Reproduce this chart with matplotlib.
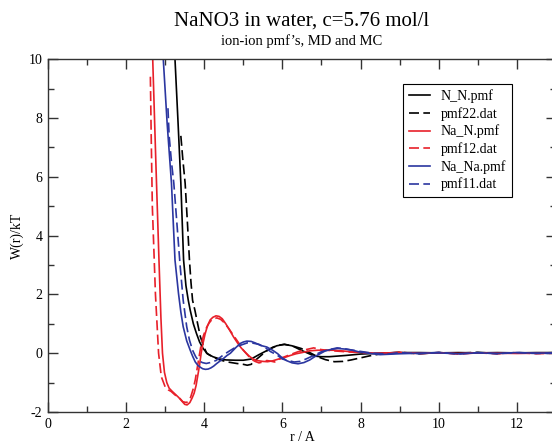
import matplotlib.pyplot as plt
from matplotlib.ticker import MultipleLocator

plt.rcParams['font.family'] = ['Liberation Serif', 'DejaVu Serif']
plt.rcParams['axes.unicode_minus'] = False

# N_N.pmf (MD) and pmf22.dat (MC)
nn_x = [3.20, 3.25, 3.33, 3.40, 3.47, 3.53, 3.59, 3.64, 3.72, 3.80, 3.88, 3.97, 4.08, 4.22, 4.40, 4.56,
        4.80, 5.00, 5.20, 5.40, 5.62, 5.85, 6.05, 6.25, 6.48, 6.65, 6.82, 7.00, 7.20, 7.60, 8.00, 8.50,
        9.00, 9.50, 10.0, 10.5, 11.0, 11.5, 12.0, 12.5, 13.0]
nn_y = [11.5, 10.0, 7.80, 5.78, 3.17, 2.30, 1.80, 1.46, 1.00, 0.67, 0.38, 0.16, -0.02, -0.12, -0.20, -0.23,
        -0.24, -0.24, -0.20, -0.05, 0.10, 0.25, 0.30, 0.25, 0.10, 0.00, -0.10, -0.12, -0.12, -0.08, -0.03, 0.00,
        0.02, 0.02, 0.01, 0.02, 0.01, 0.02, 0.01, 0.02, 0.02]
p22_x = [3.40, 3.45, 3.51, 3.57, 3.62, 3.66, 3.70, 3.76, 3.83, 3.90, 3.98, 4.06, 4.20, 4.40, 4.60, 4.83,
         5.00, 5.10, 5.20, 5.30, 5.46, 5.60, 5.75, 5.90, 6.05, 6.25, 6.48, 6.70, 6.90, 7.10, 7.33, 7.55,
         7.76, 8.00, 8.20, 8.60, 9.00, 9.50, 10.0, 10.5, 11.0, 11.5, 12.0, 12.5, 13.0]
p22_y = [7.39, 6.60, 5.78, 4.40, 3.17, 2.40, 1.80, 1.46, 1.00, 0.56, 0.25, 0.00, -0.12, -0.23, -0.30, -0.35,
         -0.38, -0.41, -0.38, -0.25, -0.07, 0.08, 0.20, 0.27, 0.30, 0.25, 0.16, 0.02, -0.12, -0.22, -0.29, -0.28,
         -0.23, -0.16, -0.10, 0.00, 0.03, -0.02, 0.02, 0.00, 0.03, -0.01, 0.02, 0.00, 0.02]

# Na_N.pmf (MD) and pmf12.dat (MC)
nan_x = [2.64, 2.68, 2.76, 2.84, 2.89, 2.93, 2.98, 3.04, 3.10, 3.18, 3.26, 3.34, 3.42, 3.50, 3.56, 3.63,
         3.69, 3.74, 3.79, 3.83, 3.88, 3.92, 3.97, 4.02, 4.08, 4.15, 4.22, 4.30, 4.38, 4.46, 4.55, 4.65,
         4.75, 4.85, 4.95, 5.05, 5.15, 5.25, 5.35, 5.50, 5.62, 5.75, 5.90, 6.05, 6.20, 6.35, 6.50, 6.70,
         6.90, 7.10, 7.30, 7.50, 7.75, 8.00, 8.35, 8.70, 9.00, 9.50, 10.0, 10.5, 11.0, 11.5, 12.0, 12.5, 13.0]
nan_y = [11.5, 10.0, 6.50, 3.17, 1.20, 0.00, -0.65, -1.00, -1.19, -1.30, -1.40, -1.50, -1.62, -1.74, -1.76, -1.68,
         -1.52, -1.36, -1.10, -0.79, -0.40, 0.00, 0.35, 0.65, 0.92, 1.13, 1.22, 1.27, 1.25, 1.17, 1.00, 0.78,
         0.55, 0.35, 0.17, 0.03, -0.10, -0.20, -0.25, -0.28, -0.29, -0.26, -0.20, -0.15, -0.08, -0.02, 0.02, 0.08,
         0.10, 0.10, 0.10, 0.08, 0.05, 0.03, 0.00, 0.01, 0.02, 0.00, 0.01, -0.01, 0.01, 0.00, -0.01, 0.00, 0.01]
p12_x = [2.62, 2.64, 2.67, 2.71, 2.75, 2.79, 2.83, 2.90, 3.00, 3.08, 3.15, 3.25, 3.35, 3.45, 3.55, 3.65,
         3.72, 3.77, 3.82, 3.87, 3.92, 3.98, 4.05, 4.12, 4.20, 4.32, 4.42, 4.50, 4.62, 4.75, 4.88, 5.00,
         5.10, 5.20, 5.30, 5.40, 5.50, 5.60, 5.70, 5.80, 5.90, 6.00, 6.20, 6.40, 6.60, 6.80, 7.00, 7.30,
         7.60, 8.00, 8.50, 9.00, 9.50, 10.0, 10.5, 11.0, 11.5, 12.0, 12.5, 13.0]
p12_y = [9.40, 7.50, 5.00, 3.50, 2.00, 1.00, 0.00, -0.80, -1.15, -1.25, -1.30, -1.42, -1.50, -1.65, -1.68, -1.50,
         -1.20, -0.90, -0.50, -0.10, 0.30, 0.60, 0.85, 1.02, 1.15, 1.20, 1.15, 1.05, 0.85, 0.60, 0.35, 0.10,
         -0.05, -0.20, -0.28, -0.33, -0.30, -0.25, -0.27, -0.30, -0.22, -0.15, -0.05, 0.05, 0.12, 0.18, 0.12, 0.08,
         0.05, 0.02, -0.02, 0.03, -0.02, 0.02, -0.03, 0.01, -0.02, 0.02, -0.02, 0.00]

# Na_Na.pmf (MD) and pmf11.dat (MC)
nana_x = [2.92, 2.95, 3.05, 3.16, 3.25, 3.34, 3.40, 3.46, 3.55, 3.64, 3.70, 3.77, 3.84, 3.90, 3.96, 4.03,
          4.10, 4.17, 4.24, 4.32, 4.41, 4.50, 4.58, 4.67, 4.80, 4.92, 5.00, 5.09, 5.20, 5.30, 5.45, 5.60,
          5.75, 5.88, 5.96, 6.10, 6.25, 6.40, 6.55, 6.70, 6.85, 6.99, 7.10, 7.25, 7.42, 7.60, 7.80, 7.94,
          8.20, 8.50, 9.00, 9.50, 10.0, 10.5, 11.0, 11.5, 12.0, 12.5, 13.0]
nana_y = [11.0, 10.0, 7.80, 5.78, 3.17, 2.03, 1.40, 0.90, 0.42, 0.10, -0.10, -0.30, -0.42, -0.48, -0.53, -0.55,
          -0.54, -0.50, -0.44, -0.35, -0.26, -0.17, -0.08, 0.00, 0.18, 0.33, 0.38, 0.41, 0.40, 0.35, 0.26, 0.21,
          0.10, -0.02, -0.12, -0.25, -0.33, -0.36, -0.32, -0.23, -0.10, 0.00, 0.08, 0.13, 0.16, 0.14, 0.10, 0.05,
          0.00, -0.05, -0.02, 0.00, 0.01, -0.02, 0.01, -0.01, 0.02, 0.00, 0.01]
p11_x = [3.07, 3.10, 3.16, 3.22, 3.30, 3.38, 3.46, 3.55, 3.62, 3.70, 3.78, 3.85, 3.95, 4.05, 4.15, 4.30,
         4.40, 4.50, 4.65, 4.80, 4.95, 5.10, 5.25, 5.40, 5.55, 5.70, 5.85, 6.00, 6.15, 6.30, 6.45, 6.60,
         6.80, 7.00, 7.20, 7.40, 7.60, 7.80, 8.05, 8.30, 8.70, 9.00, 9.50, 10.0, 10.5, 11.0, 11.5, 12.0,
         12.5, 13.0]
p11_y = [8.33, 7.40, 6.50, 5.78, 4.40, 3.00, 1.80, 0.90, 0.45, 0.10, -0.12, -0.25, -0.32, -0.35, -0.32, -0.25,
         -0.15, -0.05, 0.08, 0.20, 0.28, 0.35, 0.34, 0.30, 0.20, 0.05, -0.05, -0.20, -0.25, -0.30, -0.28, -0.20,
         -0.08, 0.05, 0.12, 0.18, 0.15, 0.10, 0.05, 0.00, -0.03, 0.02, -0.02, 0.03, -0.03, 0.02, -0.02, 0.02,
         -0.01, 0.00]

labels = ['N_N.pmf', 'pmf22.dat', 'Na_N.pmf', 'pmf12.dat', 'Na_Na.pmf', 'pmf11.dat']

red = '#e8202a'
blue = '#2b36a0'
dash = (6, 2.6)

fig = plt.figure(figsize=(5.52, 4.43), dpi=100)
ax = fig.add_axes([0.0870, 0.070, 0.9200, 0.7966])

ax.plot(nn_x, nn_y, color='black', lw=1.2, label=labels[0])
ax.plot(p22_x, p22_y, color='black', lw=1.2, dashes=dash, label=labels[1])
ax.plot(nan_x, nan_y, color=red, lw=1.2, label=labels[2])
ax.plot(p12_x, p12_y, color=red, lw=1.2, dashes=dash, label=labels[3])
ax.plot(nana_x, nana_y, color=blue, lw=1.2, label=labels[4])
ax.plot(p11_x, p11_y, color=blue, lw=1.2, dashes=dash, label=labels[5])

ax.set_xlim(0, 13)
ax.set_ylim(-2, 10)
ax.xaxis.set_major_locator(MultipleLocator(2))
ax.xaxis.set_minor_locator(MultipleLocator(1))
ax.yaxis.set_major_locator(MultipleLocator(2))
ax.yaxis.set_minor_locator(MultipleLocator(1))
ax.tick_params(which='both', direction='in', top=True, right=True, color='#333333', labelsize=10, pad=4)
ax.tick_params(which='major', length=7, width=1.0)
ax.tick_params(which='minor', length=4, width=1.0)
for s in ax.spines.values():
    s.set_color('#333333')
    s.set_linewidth(1.0)

ax.set_xlabel('r / A', fontsize=10, labelpad=0)
ax.set_ylabel('W(r)/kT', fontsize=10, labelpad=3)

fig.text(0.547, 0.953, 'NaNO3 in water, c=5.76 mol/l', ha='center', va='center', fontsize=15)
fig.text(0.547, 0.908, "ion-ion pmf\u2019s, MD and MC", ha='center', va='center', fontsize=10.5)

leg = ax.legend(loc='upper right', bbox_to_anchor=(0.913, 0.93), fontsize=10, frameon=True,
                fancybox=False, framealpha=1, edgecolor='black', borderpad=0.4,
                labelspacing=0.28, handlelength=1.5, handletextpad=0.8, borderaxespad=0)
leg.get_frame().set_linewidth(0.8)

fig.savefig('out.png', dpi=100)
